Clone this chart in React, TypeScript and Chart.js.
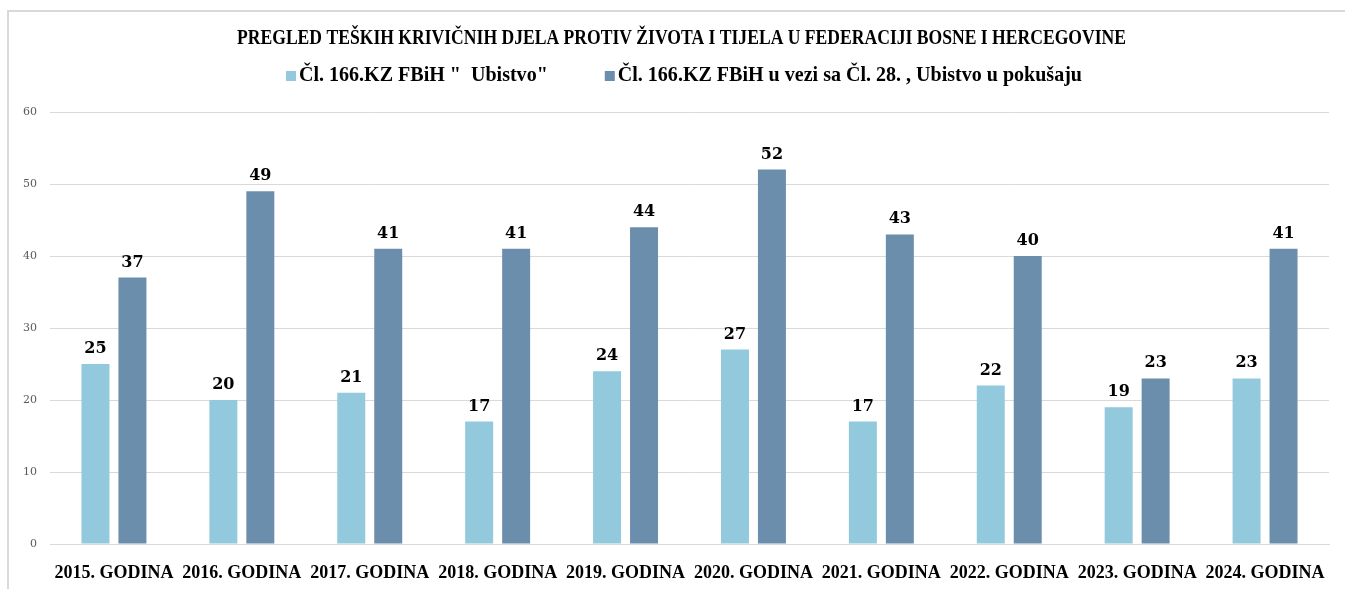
import React, { useEffect, useRef } from "react";
import { Chart, registerables } from "chart.js";

Chart.register(...registerables);

const TITLE =
  "PREGLED TEŠKIH KRIVIČNIH DJELA PROTIV ŽIVOTA I TIJELA U FEDERACIJI BOSNE I HERCEGOVINE";

const categories = [
  "2015. GODINA",
  "2016. GODINA",
  "2017. GODINA",
  "2018. GODINA",
  "2019. GODINA",
  "2020. GODINA",
  "2021. GODINA",
  "2022. GODINA",
  "2023. GODINA",
  "2024. GODINA",
];

const seriesNames = [
  'Čl. 166.KZ FBiH "  Ubistvo"',
  "Čl. 166.KZ FBiH u vezi sa Čl. 28. , Ubistvo u pokušaju",
];

const ubistvo = [25, 20, 21, 17, 24, 27, 17, 22, 19, 23];
const ubistvoPokusaj = [37, 49, 41, 41, 44, 52, 43, 40, 23, 41];

const yMin = 0;
const yMax = 60;
const yStep = 10;

const seriesColors = ["#92C9DC", "#6B8EAD"];

const headerPlugin = {
  id: "headerPlugin",
  afterDraw(chart: any) {
    const ctx = chart.ctx;
    ctx.save();
    // Title
    ctx.fillStyle = "#000000";
    ctx.font = "bold 22px 'Liberation Serif'";
    ctx.textAlign = "center";
    ctx.textBaseline = "middle";
    const tw = ctx.measureText(TITLE).width;
    ctx.save();
    ctx.translate(681.5, 38);
    ctx.scale(889 / tw, 1);
    ctx.fillText(TITLE, 0, 0);
    ctx.restore();

    // Legend
    ctx.font = "bold 21px 'Liberation Serif'";
    ctx.textAlign = "left";
    const box = 10;
    const gapText = 3;
    const gapItems = 57;
    const total = 796;
    const widths = seriesNames.map((n) => ctx.measureText(n).width);
    const s = (total - 2 * (box + gapText) - gapItems) / (widths[0] + widths[1]);
    let x = 684 - total / 2;
    const cy = 76;
    seriesNames.forEach((name, i) => {
      ctx.fillStyle = seriesColors[i];
      ctx.fillRect(x, cy - box / 2, box, box);
      x += box + gapText;
      ctx.fillStyle = "#000000";
      ctx.save();
      ctx.translate(x, cy);
      ctx.scale(s, 1);
      ctx.fillText(name, 0, 0);
      ctx.restore();
      x += widths[i] * s + gapItems;
    });
    ctx.restore();
  },
};

const valueLabelPlugin = {
  id: "valueLabelPlugin",
  afterDatasetsDraw(chart: any) {
    const ctx = chart.ctx;
    ctx.save();
    ctx.font = "bold 16px 'DejaVu Serif'";
    ctx.fillStyle = "#000000";
    ctx.textAlign = "center";
    ctx.textBaseline = "alphabetic";
    chart.data.datasets.forEach((ds: any, i: number) => {
      const meta = chart.getDatasetMeta(i);
      meta.data.forEach((el: any, j: number) => {
        ctx.fillText(String(ds.data[j]), el.x, el.y - 11);
      });
    });
    ctx.restore();
  },
};

export default function App() {
  const canvasRef = useRef<HTMLCanvasElement | null>(null);

  useEffect(() => {
    if (!canvasRef.current) return;
    const chart = new Chart(canvasRef.current, {
      type: "bar",
      data: {
        labels: categories,
        datasets: [
          {
            label: seriesNames[0],
            data: ubistvo,
            backgroundColor: seriesColors[0],
            categoryPercentage: 0.578,
            barPercentage: 0.757,
          },
          {
            label: seriesNames[1],
            data: ubistvoPokusaj,
            backgroundColor: seriesColors[1],
            categoryPercentage: 0.578,
            barPercentage: 0.757,
          },
        ],
      },
      options: {
        responsive: false,
        devicePixelRatio: 1,
        animation: false,
        layout: { padding: { top: 112, left: 8, right: 16, bottom: 0 } },
        plugins: {
          legend: { display: false },
          title: { display: false },
          tooltip: { enabled: false },
        },
        scales: {
          x: {
            grid: { display: false },
            border: { display: true, color: "#D9D9D9", width: 1 },
            ticks: {
              color: "#000000",
              font: { family: "'Liberation Serif'", size: 18, weight: "bold" },
              padding: 11,
              maxRotation: 0,
              autoSkip: false,
            },
            afterFit(scale: any) {
              scale.height = 45;
            },
          },
          y: {
            min: yMin,
            max: yMax,
            grid: { color: "#D9D9D9", lineWidth: 1, drawTicks: false },
            border: { display: false },
            ticks: {
              stepSize: yStep,
              color: "#595959",
              font: { family: "'DejaVu Serif'", size: 11 },
              padding: 13,
            },
            afterFit(scale: any) {
              scale.width = 42;
            },
          },
        },
      },
      plugins: [headerPlugin, valueLabelPlugin],
    });
    return () => chart.destroy();
  }, []);

  return (
    <div
      style={{
        position: "fixed",
        left: 0,
        top: 0,
        width: 1345,
        height: 589,
        background: "#ffffff",
        overflow: "hidden",
      }}
    >
      <div
        style={{
          position: "absolute",
          left: 7,
          top: 10,
          width: 1345,
          height: 600,
          borderTop: "2px solid #D9D9D9",
          borderLeft: "2px solid #D9D9D9",
          boxSizing: "border-box",
        }}
      />
      <canvas
        ref={canvasRef}
        width={1345}
        height={589}
        style={{ position: "absolute", left: 0, top: 0, display: "block" }}
      />
    </div>
  );
}
